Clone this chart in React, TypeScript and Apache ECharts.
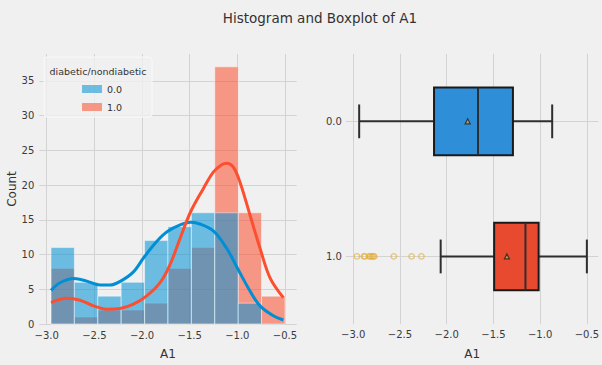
import React, { useEffect, useRef } from 'react';
import * as echarts from 'echarts';

// ---- data ----
const binEdges = [-2.955, -2.71, -2.464, -2.219, -1.973, -1.728, -1.482, -1.237, -0.991, -0.746, -0.5];
const counts0 = [11, 6, 4, 6, 12, 14, 16, 16, 3, 0];
const counts1 = [8, 1, 2, 2, 3, 8, 11, 37, 16, 4];

const kde0X = [-2.955, -2.86, -2.713, -2.58, -2.44, -2.336, -2.224, -2.09, -1.979, -1.846, -1.734, -1.6, -1.49, -1.392, -1.252, -1.112, -1.0, -0.867, -0.762, -0.622, -0.517];
const kde0Y = [4.84, 5.94, 6.55, 6.17, 5.6, 5.6, 6.17, 7.5, 9.6, 11.87, 13.3, 14.25, 14.63, 14.39, 13.4, 10.9, 8.07, 4.75, 2.61, 1.19, 0.57];
const kde1X = [-2.955, -2.79, -2.65, -2.51, -2.37, -2.23, -2.09, -1.951, -1.811, -1.706, -1.6, -1.49, -1.357, -1.252, -1.164, -1.112, -1.042, -0.972, -0.867, -0.762, -0.657, -0.517];
const kde1Y = [3.09, 3.7, 3.42, 2.61, 2.14, 2.23, 2.85, 4.04, 5.94, 8.55, 12.35, 16.15, 19.47, 21.85, 22.9, 23.13, 22.56, 20.4, 15.67, 10.92, 6.65, 3.8];

const groups = ['0.0', '1.0'];
const whiskerLow = [-2.936, -2.064];
const q1 = [-2.135, -1.492];
const median = [-1.665, -1.157];
const q3 = [-1.291, -1.016];
const whiskerHigh = [-0.871, -0.5];
const means = [-1.775, -1.355];
const outliers1 = [-2.96, -2.885, -2.875, -2.83, -2.815, -2.8, -2.785, -2.775, -2.565, -2.375, -2.27];

const xTicks = [-3.0, -2.5, -2.0, -1.5, -1.0, -0.5];
const countTicks = [0, 5, 10, 15, 20, 25, 30, 35];
const groupTicks = [0, 1];

const FONT = 'DejaVu Sans';
const XMIN = -3.078;
const XMAX = -0.377;
const BLUE = '#008fd5';
const RED = '#fc4f30';
const boxColors = ['#2e8ed8', '#e84a2f'];

export default function App() {
  const ref = useRef<HTMLDivElement>(null);
  useEffect(() => {
    const chart = echarts.init(ref.current!, null, { renderer: 'svg' });
    const fmt = (v: number) => (v < 0 ? '\u2212' : '') + Math.abs(v).toFixed(1);
    const histData = (counts: number[]) => counts.map((c, i) => [binEdges[i], binEdges[i + 1], c]);
    const histRender = (fill: string) => (params: any, api: any) => {
      const c = api.value(2);
      if (!c) return null;
      const a = api.coord([api.value(0), c]);
      const b = api.coord([api.value(1), 0]);
      return {
        type: 'rect',
        shape: { x: a[0], y: a[1], width: b[0] - a[0], height: b[1] - a[1] },
        style: { fill, stroke: 'rgba(255,255,255,0.45)', lineWidth: 1 },
      };
    };
    const boxRender = (params: any, api: any) => {
      const i = api.value(0);
      const yc = api.coord([api.value(1), i])[1];
      const xs = [1, 2, 3, 4, 5].map((k) => api.coord([api.value(k), i])[0]);
      const unit = Math.abs(api.size([0, 1])[1]);
      const half = unit * 0.25;
      const cap = unit * 0.125;
      const ln = (x1: number, y1: number, x2: number, y2: number) => ({
        type: 'line',
        shape: { x1, y1, x2, y2 },
        style: { stroke: '#2e2e2e', lineWidth: 2 },
      });
      return {
        type: 'group',
        children: [
          ln(xs[0], yc, xs[1], yc),
          ln(xs[3], yc, xs[4], yc),
          ln(xs[0], yc - cap, xs[0], yc + cap),
          ln(xs[4], yc - cap, xs[4], yc + cap),
          {
            type: 'rect',
            shape: { x: xs[1], y: yc - half, width: xs[3] - xs[1], height: 2 * half },
            style: { fill: boxColors[i], stroke: '#1a1a1a', lineWidth: 2 },
          },
          ln(xs[2], yc - half, xs[2], yc + half),
        ],
      };
    };
    const labelStyle = { fontFamily: FONT, fontSize: 10, color: '#3a3a3a' };
    const nameStyle = { fontFamily: FONT, fontSize: 12, color: '#333' };
    const splitLine = { show: true, lineStyle: { color: '#d3d3d3', width: 1 } };
    const xAxisBase = (gridIndex: number, margin: number) => ({
      gridIndex,
      type: 'value',
      min: XMIN,
      max: XMAX,
      axisLine: { show: false },
      axisTick: { show: false, customValues: xTicks },
      axisLabel: { ...labelStyle, customValues: xTicks, formatter: fmt, margin },
      splitLine,
      name: 'A1',
      nameLocation: 'middle',
      nameGap: 24,
      nameTextStyle: nameStyle,
    });

    chart.setOption({
      animation: false,
      backgroundColor: '#f0f0f0',
      grid: [
        { left: 39.3, top: 54, width: 257.4, height: 272.7 },
        { left: 345.9, top: 53.8, width: 255, height: 274 },
      ],
      xAxis: [xAxisBase(0, 6), xAxisBase(1, 5)],
      yAxis: [
        {
          gridIndex: 0,
          type: 'value',
          min: 0,
          max: 38.85,
          axisLine: { show: false },
          axisTick: { show: false, customValues: countTicks },
          axisLabel: { ...labelStyle, customValues: countTicks, margin: 5 },
          splitLine,
          name: 'Count',
          nameLocation: 'middle',
          nameGap: 20,
          nameRotate: 90,
          nameTextStyle: nameStyle,
        },
        {
          gridIndex: 1,
          type: 'value',
          min: -0.5,
          max: 1.5,
          inverse: true,
          axisLine: { show: false },
          axisTick: { show: false, customValues: groupTicks },
          axisLabel: {
            ...labelStyle,
            customValues: groupTicks,
            margin: 4,
            formatter: (v: number) => groups[Math.round(v)],
          },
          splitLine,
        },
      ],
      legend: {
        orient: 'vertical',
        left: 77,
        top: 77,
        itemWidth: 20,
        itemHeight: 8,
        itemGap: 4,
        selectedMode: false,
        icon: 'rect',
        data: groups,
        textStyle: { fontFamily: FONT, fontSize: 9.5, color: '#333', lineHeight: 14 },
        z: 6,
      },
      graphic: [
        {
          type: 'text',
          style: {
            text: 'Histogram and Boxplot of A1',
            x: 320,
            y: 18,
            align: 'center',
            verticalAlign: 'middle',
            font: `13.5px "${FONT}"`,
            fill: '#333',
          },
          z: 10,
        },
        {
          type: 'rect',
          shape: { x: 44, y: 57, width: 108, height: 60, r: 3 },
          style: { fill: 'rgba(240,240,240,0.8)', stroke: 'rgba(250,250,250,0.9)', lineWidth: 1 },
          z: 5,
        },
        {
          type: 'text',
          style: {
            text: 'diabetic/nondiabetic',
            x: 98,
            y: 71,
            align: 'center',
            verticalAlign: 'middle',
            font: `9.5px "${FONT}"`,
            fill: '#333',
          },
          z: 7,
        },
      ],
      series: [
        {
          name: '1.0',
          type: 'custom',
          xAxisIndex: 0,
          yAxisIndex: 0,
          itemStyle: { color: 'rgba(252,79,48,0.55)' },
          encode: { x: [0, 1], y: 2 },
          renderItem: histRender('rgba(252,79,48,0.55)'),
          data: histData(counts1),
          z: 2,
        },
        {
          name: '0.0',
          type: 'custom',
          xAxisIndex: 0,
          yAxisIndex: 0,
          itemStyle: { color: 'rgba(0,143,213,0.55)' },
          encode: { x: [0, 1], y: 2 },
          renderItem: histRender('rgba(0,143,213,0.55)'),
          data: histData(counts0),
          z: 3,
        },
        {
          name: 'kde0',
          type: 'line',
          xAxisIndex: 0,
          yAxisIndex: 0,
          smooth: 0.35,
          showSymbol: false,
          lineStyle: { color: BLUE, width: 3 },
          itemStyle: { color: BLUE },
          data: kde0X.map((x, i) => [x, kde0Y[i]]),
          z: 4,
        },
        {
          name: 'kde1',
          type: 'line',
          xAxisIndex: 0,
          yAxisIndex: 0,
          smooth: 0.35,
          showSymbol: false,
          lineStyle: { color: RED, width: 3 },
          itemStyle: { color: RED },
          data: kde1X.map((x, i) => [x, kde1Y[i]]),
          z: 4,
        },
        {
          name: 'box',
          type: 'custom',
          xAxisIndex: 1,
          yAxisIndex: 1,
          encode: { y: 0, x: [1, 2, 3, 4, 5] },
          renderItem: boxRender,
          data: groups.map((g, i) => [i, whiskerLow[i], q1[i], median[i], q3[i], whiskerHigh[i]]),
          z: 2,
        },
        {
          name: 'mean',
          type: 'scatter',
          xAxisIndex: 1,
          yAxisIndex: 1,
          symbol: 'triangle',
          symbolSize: 5,
          itemStyle: { color: '#d9a54a', borderColor: '#222', borderWidth: 1.2 },
          data: means.map((m, i) => [m, i]),
          z: 5,
        },
        {
          name: 'outliers',
          type: 'scatter',
          xAxisIndex: 1,
          yAxisIndex: 1,
          symbol: 'circle',
          symbolSize: 5.5,
          itemStyle: { color: 'rgba(0,0,0,0)', borderColor: 'rgba(229,174,56,0.9)', borderWidth: 1.2 },
          data: outliers1.map((v) => [v, 1]),
          z: 5,
        },
      ],
    });
    return () => chart.dispose();
  }, []);
  return <div ref={ref} style={{ position: 'absolute', left: 0, top: 0, width: 602, height: 365 }} />;
}
